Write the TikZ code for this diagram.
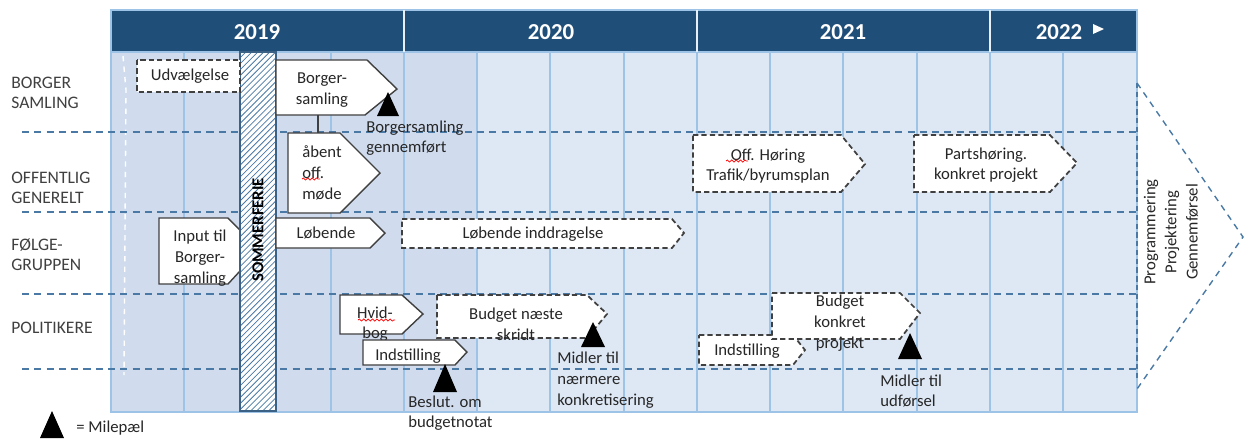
\documentclass[tikz,border=0pt]{standalone}
\usepackage{fontspec}
\setmainfont{Carlito}
\usetikzlibrary{patterns.meta,decorations.pathmorphing}

\definecolor{hovedblaa}{HTML}{1F4E79}
\definecolor{lysblaa}{HTML}{DEE8F5}
\definecolor{moerkblaa}{HTML}{D0DCEE}
\definecolor{gitter}{HTML}{9DC3E6}
\definecolor{bane}{HTML}{4A79A5}
\definecolor{kant}{HTML}{404040}
\definecolor{tekstsort}{HTML}{262626}

\tikzset{
  felt/.style={draw=kant, fill=white, line width=0.8pt},
  stiplet/.style={felt, line width=1pt, dash pattern=on 3pt off 1.8pt},
  bokstekst/.style={font=\fontsize{9.5}{11.8}\selectfont, text=tekstsort, align=center, inner sep=0pt},
  mlabel/.style={bokstekst, align=left, anchor=west},
  raekke/.style={font=\fontsize{10}{11.5}\selectfont, text=kant, align=left, anchor=west, inner sep=0pt},
  aar/.style={font=\bfseries\fontsize{13}{15}\selectfont, text=white, inner sep=0pt},
  banelinje/.style={draw=bane, line width=0.8pt, dash pattern=on 4pt off 3pt},
  squig/.style={red, line width=0.4pt, decorate, decoration={snake, amplitude=0.6pt, segment length=2.5pt}}
}

\begin{document}
\begin{tikzpicture}[x=0.02cm, y=-0.02cm]
\useasboundingbox (0,0) rectangle (1250,441);

% Baggrund og kvartaler
\fill[lysblaa] (111,52) rectangle (1137,412);
\fill[moerkblaa] (111,52) rectangle (477,412);
\foreach \x in {184,257,331,404,477,550,624,697,770,843,917,990,1063}
  \draw[gitter, line width=0.6pt] (\x,52) -- (\x,412);
\draw[gitter, line width=0.6pt] (111,52) rectangle (1137,412);

% Aarstal
\fill[hovedblaa] (111,10) rectangle (1137,52);
\draw[gitter, line width=0.6pt] (111,10) rectangle (1137,52);
\foreach \x in {404,697,990}
  \draw[white!75!gitter, line width=0.8pt] (\x,10) -- (\x,52);
\node[aar] (a2019) at (257,32) {2019};
\node[aar] (a2020) at (551,32) {2020};
\node[aar] (a2021) at (843,32) {2021};
\node[aar] (a2022) at (1059,32) {2022};
\fill[white] (1093,24) -- (1104,29) -- (1093,34) -- cycle;

% hvid stiplet linje
\draw[white, dashed, line width=0.8pt] (123,56) -- (126,90) -- (124,375);

% Baner
\foreach \y in {132,212,294,369}
  \draw[banelinje] (22,\y) -- (1137,\y);

% Raekker
\node[raekke] (borger) at (11,93) {BORGER\\SAMLING};
\node[raekke] (offentlig) at (11,188) {OFFENTLIG\\GENERELT};
\node[raekke] (foelge) at (11,255) {FØLGE-\\GRUPPEN};
\node[raekke] (politik) at (11,328) {POLITIKERE};

% Input til borgersamling (under ferien)
\draw[felt] (159,218) -- (228,218) -- (240,230) -- (240,271) -- (228,284) -- (159,284) -- cycle;
\node[bokstekst] (input) at (200,258) {Input til\\Borger-\\samling};

% Sommerferie
\fill[white] (240,52) rectangle (276,411);
\fill[pattern={Lines[angle=45, distance=2.4pt, line width=0.45pt]}, pattern color=bane] (240,52) rectangle (276,411);
\draw[bane!80!black, line width=0.8pt] (240,52) rectangle (276,411);
\node[rotate=90, font=\bfseries\fontsize{9.5}{11}\selectfont, text=black, inner sep=0pt] (ferie) at (258,230) {SOMMERFERIE};

% Borgersamling
\draw[stiplet] (137,60) rectangle (240,92);
\node[bokstekst] (udv) at (190,76) {Udvælgelse};
\draw[felt] (276,60) -- (367,60) -- (397,89) -- (365,115) -- (276,115) -- cycle;
\node[bokstekst] (bsamling) at (322,90) {Borger-\\samling};
\fill[black] (377,116) -- (388,92) -- (399,116) -- cycle;
\node[mlabel] (bsnote) at (366,138) {Borgersamling\\gennemført};

% Offentlig generelt
\coordinate (bs-fod) at (318,115);
\coordinate (aab-top) at (318,133);
\draw[kant, line width=0.8pt] (bs-fod) -- (aab-top);
\draw[felt] (288,133) -- (340,133) -- (380,173) -- (340,213) -- (288,213) -- cycle;
\node[bokstekst, align=left, anchor=west] (aabent) at (302,173) {åbent\\off.\\møde};
\draw[squig] (302,179) -- (320,179);
\draw[stiplet] (693,135) -- (841,135) -- (865,164) -- (841,192) -- (693,192) -- cycle;
\node[bokstekst] (hoering) at (768,166) {Off. Høring\\Trafik/byrumsplan};
\draw[squig] (726,161) -- (748,161);
\draw[stiplet] (914,135) -- (1050,135) -- (1077,163) -- (1050,192) -- (914,192) -- cycle;
\node[bokstekst] (parts) at (986,165) {Partshøring.\\konkret projekt};

% Foelgegruppen
\draw[felt] (276,218) -- (370,218) -- (385,233) -- (370,248) -- (276,248) -- cycle;
\node[bokstekst] (loeb) at (326,233) {Løbende};
\draw[stiplet] (402,219) -- (672,219) -- (684,233) -- (672,248) -- (402,248) -- cycle;
\node[bokstekst] (loebind) at (533,234) {Løbende inddragelse};

% Politikere
\draw[felt] (340,295) -- (402,295) -- (423,314) -- (402,334) -- (340,334) -- cycle;
\node[bokstekst] (hvidbog) at (375,324) {Hvid-\\bog};
\draw[squig] (358,320) -- (395,320);
\draw[felt] (363,340) -- (455,340) -- (467,352) -- (455,365) -- (363,365) -- cycle;
\node[bokstekst] (indst1) at (408,356) {Indstilling};
\fill[black] (433,392) -- (445,364) -- (457,392) -- cycle;
\node[mlabel] (beslut) at (408,413) {Beslut. om\\budgetnotat};
\draw[stiplet] (437,295) -- (587,295) -- (607,314) -- (587,338) -- (437,338) -- cycle;
\node[bokstekst] (budget1) at (516,324) {Budget næste\\skridt};
\fill[black] (581,347) -- (593,322) -- (605,347) -- cycle;
\node[mlabel] (midler1) at (557,380) {Midler til\\nærmere\\konkretisering};
\draw[stiplet] (699,335) -- (793,335) -- (805,350) -- (793,365) -- (699,365) -- cycle;
\node[bokstekst] (indst2) at (747,351) {Indstilling};
\draw[stiplet] (772,293) -- (900,293) -- (920,313) -- (900,339) -- (772,339) -- cycle;
\node[bokstekst] (budget2) at (840,323) {Budget\\konkret\\projekt};
\fill[black] (898,359) -- (910,333) -- (922,359) -- cycle;
\node[mlabel] (midler2) at (880,391) {Midler til\\udførsel};

% Faser til hoejre
\draw[bane, line width=0.8pt, dash pattern=on 3pt off 2pt] (1137,83) -- (1137,380);
\draw[bane, line width=0.8pt, dash pattern=on 3.5pt off 3pt] (1137,83) -- (1243,237) -- (1137,389);
\node[rotate=90, bokstekst, font=\fontsize{9.5}{12}\selectfont] (faser) at (1171,232) {Programmering\\Projektering\\Gennemførsel};

% Signatur
\fill[black] (40,438) -- (52,411) -- (64,438) -- cycle;
\node[mlabel] (milepael) at (76,428) {= Milepæl};
\end{tikzpicture}
\end{document}
